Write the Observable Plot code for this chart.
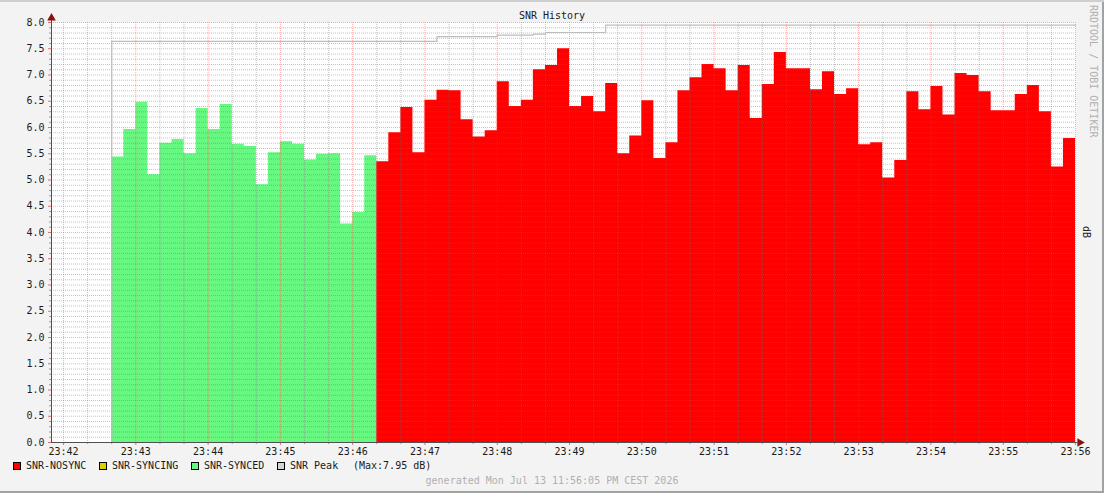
<!DOCTYPE html>
<html>
<head>
<meta charset="utf-8">
<script src="https://cdn.jsdelivr.net/npm/d3@7"></script>
<script src="https://cdn.jsdelivr.net/npm/@observablehq/plot@0.6"></script>
<style>
  body { margin: 0; background: #f3f3f3; }
  #canvas {
    position: relative; width: 1104px; height: 493px; background: #f3f3f3;
    box-shadow: inset 0 2px #cfcfcf, inset -2px -2px #a2a2a2;
    font-family: "DejaVu Sans Mono", monospace; font-size: 10px; line-height: 12px; color: #1a1a1a;
  }
  #chart { position: absolute; left: 0; top: 0; }
  .abs { position: absolute; white-space: pre; }
  .center { left: 0; width: 1104px; text-align: center; }
  .vert { writing-mode: vertical-rl; }
  .sw { position: absolute; width: 6px; height: 6px; border: 1px solid #000; top: 462px; }
</style>
</head>
<body>
<div id="canvas">
  <div id="chart"></div>
  <div class="abs center" style="top:10px">SNR History</div>
  <div class="abs vert" style="left:1087px; top:5px; color:#b0b0b0">RRDTOOL / TOBI OETIKER</div>
  <div class="abs vert" style="left:1080px; top:226px">dB</div>
  <div id="legend"></div>
  <div class="abs center" style="top:475px; color:#b0b0b0">generated Mon Jul 13 11:56:05 PM CEST 2026</div>
</div>
<script>
// tiempo en segundos desde 23:42:00, un valor cada 10 s
const xTickLabels = ["23:42", "23:43", "23:44", "23:45", "23:46", "23:47", "23:48", "23:49",
                     "23:50", "23:51", "23:52", "23:53", "23:54", "23:55", "23:56"];
const xDomain = [-10, 840];
const stepSec = 10;

const syncedStart = 40;   // 23:42:40
const synced = [5.44, 5.96, 6.48, 5.10, 5.70, 5.77, 5.50, 6.36, 5.96, 6.44, 5.68,
                5.64, 4.91, 5.52, 5.73, 5.68, 5.38, 5.49, 5.50, 4.16, 4.38, 5.46];

const nosyncStart = 260;  // 23:46:20
const nosync = [5.35, 5.90, 6.38, 5.52, 6.52, 6.71, 6.70, 6.15, 5.82, 5.94, 6.87, 6.40, 6.52, 7.10, 7.18,
                7.50, 6.40, 6.59, 6.30, 6.84, 5.50, 5.84, 6.51, 5.41, 5.71, 6.70, 6.95, 7.20, 7.12, 6.70,
                7.18, 6.17, 6.82, 7.43, 7.12, 7.12, 6.72, 7.06, 6.63, 6.74, 5.67, 5.71, 5.04, 5.37, 6.68,
                6.34, 6.78, 6.24, 7.03, 6.99, 6.68, 6.32, 6.32, 6.63, 6.80, 6.30, 5.25, 5.79];

const peakTimes = [-10, 40, 310, 360, 390, 400, 450];
const peakValues = [0, 7.64, 7.73, 7.76, 7.78, 7.81, 7.95];

const legendNames = ["SNR-NOSYNC", "SNR-SYNCING", "SNR-SYNCED", "SNR Peak"];
const legendColors = ["#ff0000", "#dcd000", "#66f880", "#d4d4d4"];
const legendX = [13, 99, 191, 277];
const peakMaxText = "(Max:7.95 dB)";

// pasa una serie a puntos para el area escalonada (el ultimo punto cierra el escalon)
function toSteps(start, values) {
  const pts = values.map((v, i) => ({ t: start + i * stepSec, v: v }));
  pts.push({ t: start + values.length * stepSec, v: values[values.length - 1] });
  return pts;
}

const syncedPts = toSteps(syncedStart, synced);
const nosyncPts = toSteps(nosyncStart, nosync);
const peakPts = peakTimes.map((t, i) => ({ t: t, v: peakValues[i] }));
peakPts.push({ t: xDomain[1], v: peakValues[peakValues.length - 1] });

const allY = d3.range(0, 81).map(i => i / 10);
const minorY = allY.filter((d, i) => i % 5 != 0);
const majorY = allY.filter((d, i) => i % 5 == 0);
const minorX = d3.range(0, 841, 20).filter(d => d % 60 != 0);
const majorX = d3.range(0, 841, 60);

const gridGray = { stroke: "#707070", strokeOpacity: 0.42, strokeDasharray: "1,1" };
const gridRed = { stroke: "#ff3030", strokeOpacity: 0.4, strokeDasharray: "1,1" };

let chart = Plot.plot({
  width: 1104,
  height: 460,
  marginLeft: 51,
  marginRight: 29,
  marginTop: 22,
  marginBottom: 18,
  x: { type: "linear", domain: xDomain, axis: null },
  y: { domain: [0, 8], axis: null },
  style: {
    background: "transparent",
    fontFamily: "DejaVu Sans Mono",
    fontSize: "10px",
    color: "#1a1a1a",
    overflow: "visible",
  },
  marks: [
    Plot.frame({ fill: "white", stroke: "none" }),
    Plot.areaY(syncedPts, { x: "t", y: "v", curve: "step-after", fill: legendColors[2] }),
    Plot.areaY(nosyncPts, { x: "t", y: "v", curve: "step-after", fill: legendColors[0] }),

    Plot.ruleY(minorY, gridGray),
    Plot.ruleX(minorX, gridGray),
    Plot.ruleY(majorY, gridRed),
    Plot.ruleX(majorX, gridRed),

    Plot.line(peakPts, { x: "t", y: "v", curve: "step-after", stroke: "#bdbdbd", strokeWidth: 1.2 }),

    Plot.axisY(minorY, { tickSize: 2, tickFormat: () => "", stroke: "#9a9a9a", label: null }),
    Plot.axisY(majorY, { tickSize: 3, tickPadding: 4, tickFormat: d3.format(".1f"), stroke: "#e07070", label: null }),
    Plot.axisX(minorX, { tickSize: 2, tickFormat: () => "", stroke: "#9a9a9a", label: null }),
    Plot.axisX(majorX, { tickSize: 3, tickPadding: 2, tickFormat: d => xTickLabels[d / 60], stroke: "#e07070", label: null }),

    // ejes con flechas
    Plot.ruleY([0], { x1: xDomain[0], x2: 842, stroke: "#505050" }),
    Plot.ruleX([xDomain[0]], { y1: 0, y2: 8.05, stroke: "#505050" }),
    Plot.dot([0], { x: xDomain[0], y: 8.085, symbol: "triangle", r: 3.2, fill: "#8a1010", stroke: null }),
    Plot.dot([0], { x: 843.6, y: 0, symbol: "triangle", rotate: 90, r: 3.2, fill: "#8a1010", stroke: null }),
  ],
});

d3.select("#chart").append(() => chart);

// leyenda
const legend = d3.select("#legend");
legendNames.forEach((name, i) => {
  legend.append("div").attr("class", "sw")
    .style("left", legendX[i] + "px").style("background", legendColors[i]);
  legend.append("div").attr("class", "abs")
    .style("left", (legendX[i] + 13) + "px").style("top", "460px").text(name);
});
legend.append("div").attr("class", "abs").style("left", "353px").style("top", "460px").text(peakMaxText);
</script>
</body>
</html>
